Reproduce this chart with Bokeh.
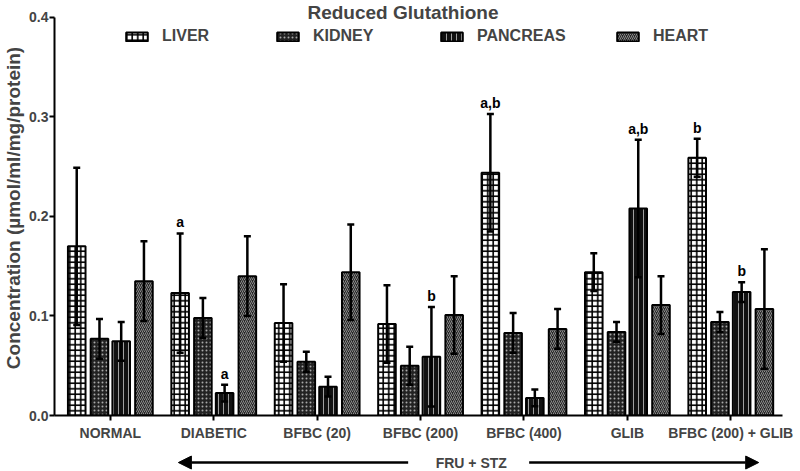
import numpy as np
from bokeh.plotting import figure
from bokeh.layouts import column
from bokeh.models import (ColumnDataSource, Whisker, TeeHead, Legend, LegendItem, Label,
                          Arrow, NormalHead, FixedTicker, Range1d, NumeralTickFormatter)
from bokeh.core.properties import value
from bokeh.embed import file_html
from bokeh.resources import INLINE

# ---------------- data ----------------
groups = ["NORMAL", "DIABETIC", "BFBC (20)", "BFBC (200)", "BFBC (400)", "GLIB", "BFBC (200) + GLIB"]
organs = ["LIVER", "KIDNEY", "PANCREAS", "HEART"]

liver_mean = [0.170, 0.123, 0.093, 0.092, 0.244, 0.144, 0.259]
liver_sd = [0.079, 0.060, 0.039, 0.039, 0.059, 0.019, 0.019]
kidney_mean = [0.077, 0.098, 0.054, 0.050, 0.083, 0.084, 0.094]
kidney_sd = [0.020, 0.020, 0.010, 0.019, 0.020, 0.010, 0.010]
pancreas_mean = [0.0745, 0.0225, 0.029, 0.059, 0.0176, 0.208, 0.124]
pancreas_sd = [0.0195, 0.0085, 0.010, 0.050, 0.0084, 0.069, 0.010]
heart_mean = [0.135, 0.140, 0.144, 0.101, 0.087, 0.111, 0.107]
heart_sd = [0.040, 0.040, 0.048, 0.039, 0.020, 0.029, 0.060]

ann_group = ["DIABETIC", "DIABETIC", "BFBC (200)", "BFBC (400)", "GLIB", "BFBC (200) + GLIB", "BFBC (200) + GLIB"]
ann_organ = ["LIVER", "PANCREAS", "PANCREAS", "LIVER", "PANCREAS", "LIVER", "PANCREAS"]
ann_text = ["a", "a", "b", "a,b", "a,b", "b", "b"]

y_ticks = [0.0, 0.1, 0.2, 0.3, 0.4]

title_text = "Reduced Glutathione"
y_label = "Concentration (µmol/ml/mg/protein)"
bottom_text = "FRU + STZ"

# ---------------- styling ----------------
FONT = "Liberation Sans"
means = {"LIVER": liver_mean, "KIDNEY": kidney_mean, "PANCREAS": pancreas_mean, "HEART": heart_mean}
sds = {"LIVER": liver_sd, "KIDNEY": kidney_sd, "PANCREAS": pancreas_sd, "HEART": heart_sd}
offsets = {"LIVER": -0.325, "KIDNEY": -0.105, "PANCREAS": 0.105, "HEART": 0.325}
styles = {
    "LIVER": dict(fill_color="white", hatch_pattern="cross", hatch_color="black", hatch_scale=5.5, hatch_weight=1.6),
    "KIDNEY": dict(fill_color="#222222", hatch_pattern="dot", hatch_color="#a8a8a8", hatch_scale=4, hatch_weight=1),
    "PANCREAS": dict(fill_color="#111111", hatch_pattern="vertical_line", hatch_color="#a0a0a0", hatch_scale=5, hatch_weight=1),
    "HEART": dict(fill_color="#262626", hatch_pattern="right_diagonal_line", hatch_color="#8c8c8c", hatch_scale=4, hatch_weight=1),
}
legend_x = {"LIVER": 69, "KIDNEY": 220, "PANCREAS": 384, "HEART": 560}
BAR_W = 0.17

x_range = Range1d(-0.54, 6.5)

p = figure(width=800, height=443, x_range=x_range, y_range=Range1d(0, 0.417),
           output_backend="svg", toolbar_location=None,
           min_border_left=53, min_border_right=18, min_border_top=0, min_border_bottom=26)
p.outline_line_color = None
p.xgrid.grid_line_color = None
p.ygrid.grid_line_color = None
p.background_fill_color = "white"

gidx = np.arange(len(groups))
for org in organs:
    m = np.array(means[org])
    s = np.array(sds[org])
    src = ColumnDataSource(dict(x=gidx + offsets[org], top=m, upper=m + s, lower=m - s))
    r = p.vbar(x="x", top="top", bottom=0, width=BAR_W, source=src,
               line_color="black", line_width=2, **styles[org])
    w = Whisker(base="x", upper="upper", lower="lower", source=src, line_width=2.5,
                line_color="black", level="annotation",
                upper_head=TeeHead(size=7, line_width=2.5, line_color="black"),
                lower_head=TeeHead(size=7, line_width=2.5, line_color="black"))
    p.add_layout(w)
    leg = Legend(items=[LegendItem(label=org, renderers=[r])], location=(legend_x[org], 370),
                 orientation="horizontal", padding=0, margin=0, spacing=0,
                 border_line_alpha=0, background_fill_alpha=0,
                 glyph_width=27, glyph_height=11, label_standoff=12,
                 label_text_font=FONT, label_text_font_style="bold", label_text_font_size="16px")
    p.add_layout(leg)

# significance letters
ax, ay = [], []
for g, o in zip(ann_group, ann_organ):
    i = groups.index(g)
    ax.append(i + offsets[o])
    ay.append(means[o][i] + sds[o][i])
p.text(x=ax, y=ay, text=ann_text, text_font=value(FONT), text_font_style="bold",
       text_font_size="14px", text_align="center", text_baseline="bottom", y_offset=-3,
       text_color="black")

# axes
p.xaxis.ticker = FixedTicker(ticks=list(range(len(groups))))
p.xaxis.major_label_overrides = {i: g for i, g in enumerate(groups)}
p.xaxis.minor_tick_line_color = None
p.xaxis.axis_line_width = 2
p.xaxis.major_tick_line_width = 2
p.xaxis.major_tick_out = 5
p.xaxis.major_tick_in = 0
p.xaxis.major_label_standoff = 4
p.xaxis.major_label_text_font = FONT
p.xaxis.major_label_text_font_style = "bold"
p.xaxis.major_label_text_font_size = "14px"

p.yaxis.ticker = FixedTicker(ticks=y_ticks)
p.yaxis.bounds = (0, 0.4)
p.yaxis.formatter = NumeralTickFormatter(format="0.0")
p.yaxis.minor_tick_line_color = None
p.yaxis.axis_line_width = 2
p.yaxis.major_tick_line_width = 2
p.yaxis.major_tick_out = 5
p.yaxis.major_tick_in = 0
p.yaxis.major_label_standoff = 1
p.yaxis.major_label_text_font = FONT
p.yaxis.major_label_text_font_style = "bold"
p.yaxis.major_label_text_font_size = "14px"
p.yaxis.axis_label = y_label
p.yaxis.axis_label_text_font = FONT
p.yaxis.axis_label_text_font_style = "bold"
p.yaxis.axis_label_text_font_size = "19px"
p.yaxis.axis_label_standoff = 2

# title (inside the frame, above the 0.4 end of the axis)
p.add_layout(Label(x=2.83, y=0.405, text=title_text, text_font=FONT, text_font_style="bold",
                   text_font_size="19px", text_align="center", text_baseline="middle"))

# bottom strip: FRU + STZ arrow
q = figure(width=800, height=28, x_range=x_range, y_range=Range1d(0, 1),
           output_backend="svg", toolbar_location=None, x_axis_type=None, y_axis_type=None,
           min_border_left=53, min_border_right=18, min_border_top=0, min_border_bottom=0)
q.outline_line_color = None
q.xgrid.grid_line_color = None
q.ygrid.grid_line_color = None
ya = 0.32
q.add_layout(Arrow(x_start=2.88, y_start=ya, x_end=0.658, y_end=ya, line_width=2.5,
                   end=NormalHead(size=13, fill_color="black", line_color="black")))
q.add_layout(Arrow(x_start=4.05, y_start=ya, x_end=6.27, y_end=ya, line_width=2.5,
                   end=NormalHead(size=13, fill_color="black", line_color="black")))
q.add_layout(Label(x=3.49, y=ya, text=bottom_text, text_font=FONT, text_font_style="bold",
                   text_font_size="14px", text_align="center", text_baseline="middle"))

layout = column(p, q, spacing=0)
open("out.html", "w").write(file_html(layout, INLINE))
